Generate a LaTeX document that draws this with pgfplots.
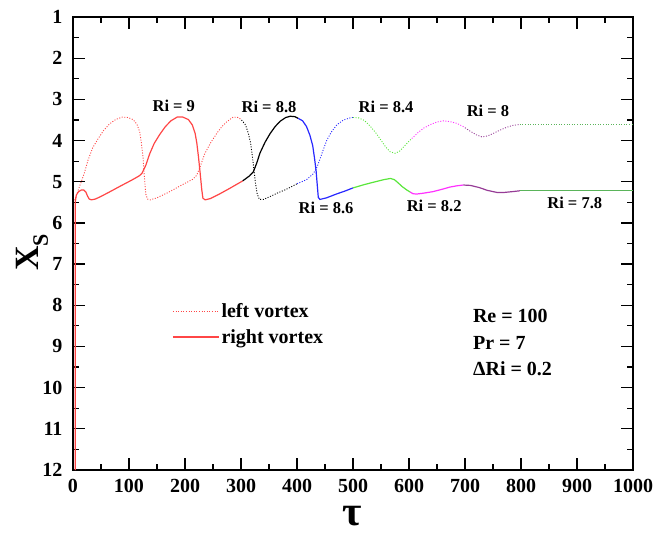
\documentclass[border=0pt]{standalone}
\usepackage{pgfplots}
\pgfplotsset{compat=1.18}
\usepackage{fontspec}
\setmainfont{Liberation Serif}

\definecolor{cred}{RGB}{255,70,70}
\definecolor{cblue}{RGB}{40,40,255}
\definecolor{cgreen}{RGB}{90,230,60}
\definecolor{cmag}{RGB}{255,50,255}
\definecolor{cpurp}{RGB}{150,60,150}
\definecolor{cgreen2}{RGB}{90,180,90}

\tikzset{
  solidv/.style={line width=1.2pt},
  dotv/.style={line width=0.9pt, dash pattern=on 1pt off 1.6pt},
}

\begin{document}
\begin{tikzpicture}
\begin{axis}[
    scale only axis,
    width=560pt, height=453pt,
    xmin=0, xmax=1000,
    ymin=1, ymax=12,
    y dir=reverse,
    xtick={0,100,...,1000},
    ytick={1,2,...,12},
    minor x tick num=1,
    minor y tick num=1,
    tick align=inside,
    major tick length=12pt,
    minor tick length=6pt,
    axis line style={line width=1.6pt},
    every tick/.style={line width=1.2pt, black},
    /pgf/number format/assume math mode=true,
    /pgf/number format/1000 sep={},
    ticklabel style={font=\bfseries\fontsize{20}{20}\selectfont},
    xticklabel style={yshift=-6pt},
    yticklabel style={xshift=-7pt},
    xlabel={\bfseries\fontsize{42}{42}\selectfont τ},
    xlabel style={at={(axis description cs:0.498,-0.1225)}, anchor=base, inner sep=0pt},
    ylabel={\bfseries\fontsize{34}{34}\selectfont X\raisebox{-0.28em}{\fontsize{22}{22}\selectfont S}},
    ylabel style={at={(axis description cs:-0.073,0.48)}, anchor=center},
    legend style={draw=none, fill=none, at={(axis cs:177,7.91)}, anchor=north west,
      font=\bfseries\fontsize{20}{20}\selectfont, row sep=6pt, inner sep=0pt,
      /tikz/every even column/.append style={column sep=4pt}},
    legend cell align=left,
    legend image code/.code={\draw[#1] (0pt,0pt) -- (46pt,0pt);},
]

\addlegendimage{cred, dotv}
\addlegendentry{left vortex}
\addlegendimage{cred, solidv}
\addlegendentry{right vortex}

% right vortex (solid)
\addplot[cred, solidv, forget plot] coordinates {
(4,12) (4,5.5) (6,5.32) (10,5.24) (15,5.2) (19,5.2) (23,5.25) (26,5.35) (29,5.42)
(33,5.44) (40,5.42) (48,5.37) (65,5.25) (84,5.11) (105,4.96) (118,4.86) (123,4.8)
(130,4.6) (137,4.32) (145,4.07) (155,3.85) (165,3.66) (175,3.52) (186,3.43) (196,3.43)
(206,3.49) (213,3.62) (218,3.82) (221,4.05) (224,4.39) (227,4.78) (230,5.2) (232,5.4)
(236,5.44) (245,5.41) (260,5.31) (280,5.16) (303,4.98)
};
\addplot[black, solidv, forget plot] coordinates {
(303,4.98) (315,4.86) (322,4.76) (328,4.55) (334,4.3) (343,4.04) (352,3.83) (361,3.66)
(370,3.53) (380,3.44) (388,3.41) (396,3.42) (402,3.46)
};
\addplot[cblue, solidv, forget plot] coordinates {
(402,3.46) (410,3.52) (417,3.66) (423,3.87) (428,4.12) (431,4.4) (434,4.72) (436,5.05)
(438,5.38) (441,5.43) (453,5.39) (470,5.3) (485,5.23) (500,5.15)
};
\addplot[cgreen, solidv, forget plot] coordinates {
(500,5.15) (520,5.07) (540,5.0) (555,4.95) (567,4.92) (574,4.95) (580,5.02) (588,5.12)
(596,5.2) (602,5.25)
};
\addplot[cmag, solidv, forget plot] coordinates {
(602,5.25) (607,5.29) (613,5.3) (625,5.28) (643,5.24) (660,5.18) (673,5.13) (685,5.1)
(697,5.08)
};
\addplot[cpurp, solidv, forget plot] coordinates {
(697,5.08) (710,5.09) (725,5.14) (740,5.21) (757,5.26) (770,5.26) (785,5.24) (798,5.22)
};
\addplot[cgreen2, solidv, forget plot] coordinates {
(798,5.22) (1000,5.22)
};

% left vortex (dotted)
\addplot[cred, dotv, forget plot] coordinates {
(3,5.45) (8,5.25) (14,5.03) (20,4.8) (27,4.47) (35,4.18) (45,3.95) (55,3.75) (65,3.6)
(76,3.49) (88,3.43) (98,3.44) (107,3.49) (114,3.6) (119,3.78) (122,4.05) (125,4.4)
(127,4.8) (130,5.3) (133,5.42) (138,5.44) (150,5.39) (170,5.26) (197,5.06) (214,4.94)
(221,4.84) (228,4.6) (235,4.33) (245,4.07) (257,3.82) (266,3.66) (275,3.54) (286,3.43)
(295,3.44) (301,3.5)
};
\addplot[black, dotv, forget plot] coordinates {
(301,3.5) (308,3.62) (313,3.82) (317,4.05) (320,4.35) (323,4.7) (326,5.05) (329,5.3)
(333,5.43) (340,5.43) (352,5.36) (364,5.28) (380,5.19) (393,5.1) (400,5.05)
};
\addplot[cblue, dotv, forget plot] coordinates {
(400,5.05) (417,4.95) (428,4.82) (433,4.72) (437,4.6) (441,4.45) (447,4.22) (453,4.0)
(461,3.8) (471,3.62) (483,3.5) (497,3.44) (500,3.44)
};
\addplot[cgreen, dotv, forget plot] coordinates {
(500,3.44) (510,3.45) (520,3.51) (530,3.64) (540,3.8) (550,3.99) (558,4.15) (566,4.27)
(575,4.31) (583,4.26) (590,4.16) (597,4.06) (605,3.95)
};
\addplot[cmag, dotv, forget plot] coordinates {
(605,3.95) (615,3.82) (626,3.7) (640,3.6) (650,3.55) (661,3.52) (673,3.54) (685,3.58)
(697,3.66) (700,3.69)
};
\addplot[cpurp, dotv, forget plot] coordinates {
(700,3.69) (709,3.77) (720,3.86) (730,3.91) (740,3.89) (750,3.83) (762,3.75) (774,3.68)
(786,3.63) (798,3.61)
};
\addplot[cgreen2, dotv, forget plot] coordinates {
(798,3.61) (1000,3.61)
};

% annotations
\begin{scope}[every node/.style={font=\bfseries\fontsize{16.5}{16.5}\selectfont, inner sep=0pt}]
\node at (axis cs:180,3.16) {Ri = 9};
\node at (axis cs:350,3.18) {Ri = 8.8};
\node at (axis cs:452,5.63) {Ri = 8.6};
\node at (axis cs:559,3.19) {Ri = 8.4};
\node at (axis cs:645,5.59) {Ri = 8.2};
\node at (axis cs:741,3.28) {Ri = 8};
\node at (axis cs:896,5.52) {Ri = 7.8};
\end{scope}
\begin{scope}[every node/.style={font=\bfseries\fontsize{20}{20}\selectfont, inner sep=0pt, anchor=west}]
\node at (axis cs:714,8.26) {Re = 100};
\node at (axis cs:714,8.92) {Pr = 7};
\node at (axis cs:714,9.55) {ΔRi = 0.2};
\end{scope}
\end{axis}
\path (current axis.south west) ++(-73pt,-65pt) rectangle ++(672pt,535pt);
\end{tikzpicture}
\end{document}
